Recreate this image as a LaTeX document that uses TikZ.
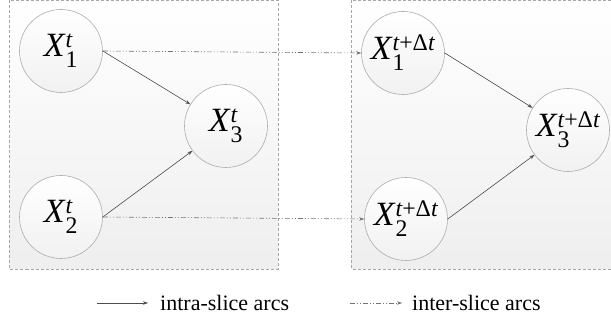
\documentclass[tikz,border=0pt]{standalone}
\usepackage{amsmath}
\usepackage{fontspec}
\setmainfont{Liberation Serif}
\usetikzlibrary{arrows.meta}

\newcommand{\slicevar}[2]{\textit{X}$^{\text{#2}}_{\text{#1}}$}
\newcommand{\later}{\itshape t\upshape+Δ\itshape t}

\begin{document}
\begin{tikzpicture}[x=1pt,y=-1pt,
  slicebox/.style={draw=gray!70,densely dashed,line width=0.5pt,top color=white,bottom color=gray!13},
  var/.style={circle,draw=gray!65,line width=0.6pt,top color=white,bottom color=gray!11,minimum size=83pt,inner sep=0pt,font=\fontsize{34}{34}\selectfont},
  intra/.style={draw=black!70,line width=0.6pt,-{Stealth[length=5pt,width=3.5pt]}},
  inter/.style={draw=black!55,line width=0.6pt,dash pattern=on 5pt off 2pt on 1pt off 2pt on 1pt off 2pt,-{Stealth[length=5pt,width=3.5pt]}},
  legend/.style={anchor=base west,inner sep=0pt,font=\fontsize{22}{22}\selectfont}]
\useasboundingbox (0,0) rectangle (611,323);
\fill[white] (0,0) rectangle (611,323);
\draw[slicebox] (9,0.5) rectangle (278,269);
\draw[slicebox] (351,0.5) rectangle (620,269);

\node[var] (a1) at (61,51) {\slicevar{1}{\itshape t}};
\node[var] (a2) at (61,217) {\slicevar{2}{\itshape t}};
\node[var] (a3) at (226,126) {\slicevar{3}{\itshape t}};
\node[var] (b1) at (403,53) {\slicevar{1}{\later}};
\node[var] (b2) at (406,219) {\slicevar{2}{\later}};
\node[var] (b3) at (568,130) {\slicevar{3}{\later}};

\draw[intra] (a1.east) -- (a3);
\draw[intra] (a2.east) -- (a3);
\draw[intra] (b1.east) -- (b3);
\draw[intra] (b2.east) -- (b3);
\draw[inter] (a1.east) -- (b1.west);
\draw[inter] (a2.east) -- (b2.west);

\coordinate (l1) at (97,303);
\coordinate (l2) at (148,303);
\coordinate (l3) at (350,303);
\coordinate (l4) at (402,303);
\draw[intra] (l1) -- (l2);
\draw[inter] (l3) -- (l4);
\node[legend] (intratext) at (160,311) {intra-slice arcs};
\node[legend] (intertext) at (412,311) {inter-slice arcs};
\end{tikzpicture}
\end{document}
